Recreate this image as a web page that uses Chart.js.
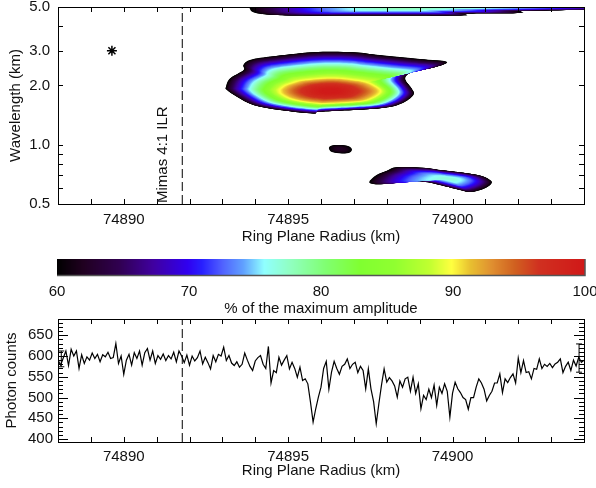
<!DOCTYPE html>
<html>
<head>
<meta charset="utf-8">
<script src="https://cdn.jsdelivr.net/npm/chart.js@4.4.0/dist/chart.umd.min.js"></script>
<style>
  html, body { margin: 0; padding: 0; background: #fff; }
  #wrap { position: relative; width: 596px; height: 488px; overflow: hidden; }
  canvas { position: absolute; left: 0; }
</style>
</head>
<body>
<div id="wrap">
  <canvas id="specChart" width="596" height="250" style="top:0"></canvas>
  <canvas id="countChart" width="596" height="188" style="top:300px"></canvas>
  <canvas id="barChart" width="596" height="80" style="top:250px"></canvas>
</div>
<script>
// ---- axes ----
const radiusMin = 74888, radiusMax = 74904;
const radiusTicks = [74888, 74889, 74890, 74891, 74892, 74893, 74894, 74895, 74896,
                     74897, 74898, 74899, 74900, 74901, 74902, 74903, 74904];
const radiusLabels = [74890, 74895, 74900];
const wavelengthTicks = [0.5, 0.6, 0.7, 0.8, 0.9, 1, 2, 3, 4, 5];
const wavelengthLabels = { 0.5: '0.5', 1: '1.0', 2: '2.0', 3: '3.0', 5: '5.0' };
const countMin = 393, countMax = 689;
const countTicks = [400, 410, 420, 430, 440, 450, 460, 470, 480, 490, 500, 510, 520, 530, 540,
                    550, 560, 570, 580, 590, 600, 610, 620, 630, 640, 650, 660, 670, 680];
const countLabels = [400, 450, 500, 550, 600, 650];
const ampTicks = [60, 70, 80, 90, 100];

// Mimas 4:1 inner Lindblad resonance and the marked wave
const ilrRadius = 74891.78;
const starPoint = [74889.64, 3.0];

// ---- wavelet power (% of maximum): 60 % outlines as [radius km, wavelength km] ----
const mainEdge = [[74893.11, 1.97], [74893.23, 2.17], [74893.64, 2.39], [74893.64, 2.54],
  [74893.84, 2.69], [74894.45, 2.80], [74895.77, 2.95], [74896.98, 2.95], [74897.79, 2.85],
  [74899.01, 2.72], [74899.82, 2.64], [74899.52, 2.49], [74898.81, 2.35], [74898.56, 2.17],
  [74898.76, 1.93], [74898.81, 1.79], [74898.45, 1.62], [74897.79, 1.53], [74895.97, 1.47],
  [74895.77, 1.44], [74894.75, 1.50], [74893.94, 1.59], [74893.44, 1.75], [74893.13, 1.90]];
// 90 % contour of the same feature, vertex for vertex
const mainCore = [[74894.77, 1.92], [74894.92, 2.00], [74895.18, 2.07], [74895.30, 2.10],
  [74895.45, 2.12], [74895.67, 2.14], [74896.11, 2.17], [74896.50, 2.17], [74896.77, 2.15],
  [74897.15, 2.11], [74897.35, 2.08], [74897.40, 2.07], [74897.39, 2.07], [74897.53, 2.03],
  [74897.78, 1.91], [74897.77, 1.82], [74897.53, 1.72], [74897.17, 1.66], [74896.09, 1.62],
  [74895.99, 1.62], [74895.44, 1.66], [74895.05, 1.72], [74894.80, 1.81], [74894.75, 1.88]];
const mainPeak = [74896.27, 1.87, 100];

const topBandEdge = [[74893.84, 4.88], [74894.08, 4.63], [74895.00, 4.53], [74897.79, 4.53],
  [74900.29, 4.53], [74900.41, 4.63], [74902.05, 4.66], [74902.17, 4.77], [74903.67, 4.83],
  [74905.10, 4.88], [74906.92, 5.06], [74905.10, 5.30], [74899.01, 5.36], [74895.36, 5.30],
  [74893.99, 5.18]];
const topBandPeak = [74898.56, 4.94, 78];

const dotEdge = [[74896.24, 0.962], [74896.33, 0.991], [74896.58, 0.997], [74896.82, 0.985],
  [74896.94, 0.951], [74896.88, 0.913], [74896.64, 0.902], [74896.33, 0.918]];
const dotPeak = [74896.58, 0.951, 62.5];

const lowEdge = [[74897.47, 0.649], [74897.69, 0.702], [74898.00, 0.738], [74898.30, 0.768],
  [74899.11, 0.764], [74899.62, 0.744], [74900.33, 0.721], [74900.89, 0.694], [74901.14, 0.662],
  [74901.19, 0.637], [74900.99, 0.601], [74900.58, 0.575], [74900.23, 0.589], [74899.62, 0.624],
  [74899.11, 0.649], [74898.40, 0.649], [74897.90, 0.632], [74897.59, 0.632]];
const lowPeak = [74899.92, 0.670, 77];

// ---- occultation profile ----
const sampleStart = 74888, sampleStep = 0.08;
const photonCounts = [
  590, 578, 595, 612, 577, 616, 600, 612, 570, 603, 582, 598, 590, 607, 594, 604, 586, 603, 598, 609,
  594, 596, 630, 582, 600, 556, 590, 604, 578, 608, 594, 612, 578, 608, 618, 590, 612, 582, 601, 592,
  605, 589, 601, 593, 609, 586, 612, 600, 584, 602, 578, 600, 588, 596, 612, 581, 597, 584, 569, 601,
  586, 604, 600, 621, 589, 601, 583, 577, 586, 573, 580, 607, 590, 575, 565, 588, 596, 601, 580, 570,
  623, 535, 565, 560, 597, 578, 590, 601, 569, 585, 570, 549, 573, 541, 545, 533, 489, 441, 473, 501,
  525, 570, 587, 520, 561, 587, 570, 556, 575, 580, 593, 570, 580, 585, 560, 575, 565, 521, 569, 521,
  490, 437, 485, 530, 569, 537, 548, 540, 528, 501, 540, 525, 545, 549, 515, 549, 510, 533, 473, 505,
  495, 520, 500, 530, 481, 525, 510, 533, 515, 453, 510, 537, 521, 512, 500, 495, 472, 500, 500, 525,
  545, 535, 520, 492, 505, 515, 535, 535, 557, 512, 545, 536, 548, 557, 535, 595, 560, 589, 560, 562,
  545, 570, 568, 593, 570, 580, 575, 582, 572, 581, 585, 593, 560, 575, 585, 565, 590, 576, 597, 585,
  590];
const edgeErrors = [[74888.10, 574, 612], [74903.85, 561, 629]];

// ---- colour table (value -> rgb) ----
const ampStops = [60, 62, 64.7, 67.3, 69.9, 71, 72.5, 74.1, 75.7, 77.7, 80.4, 83, 85.6, 88.2,
                  89.9, 91.3, 92.9, 94.7, 96.5, 100];
const ampColors = [[0, 0, 0], [32, 0, 32], [48, 0, 80], [64, 0, 160], [48, 0, 240], [40, 32, 255],
  [80, 96, 255], [96, 160, 255], [144, 255, 255], [144, 255, 192], [128, 255, 112], [128, 255, 48],
  [144, 255, 48], [192, 255, 48], [255, 255, 64], [232, 192, 48], [224, 144, 48], [208, 96, 32],
  [208, 48, 32], [208, 24, 24]];

function ampColor(v) {
  let c = ampColors[ampColors.length - 1];
  if (v <= ampStops[0]) c = ampColors[0];
  else {
    for (let i = 1; i < ampStops.length; i++) {
      if (v <= ampStops[i]) {
        const t = (v - ampStops[i - 1]) / (ampStops[i] - ampStops[i - 1]);
        const a = ampColors[i - 1], b = ampColors[i];
        c = [0, 1, 2].map(k => a[k] + (b[k] - a[k]) * t);
        break;
      }
    }
  }
  return `rgb(${Math.round(c[0])},${Math.round(c[1])},${Math.round(c[2])})`;
}

const powerBlobs = [
  { edge: topBandEdge, peak: topBandPeak },
  { edge: mainEdge, core: mainCore, coreLevel: 90, peak: mainPeak },
  { edge: dotEdge, peak: dotPeak },
  { edge: lowEdge, peak: lowPeak }
];

Chart.defaults.font.family = '"Liberation Sans", Arial, sans-serif';
Chart.defaults.font.size = 15;
Chart.defaults.color = '#111';

// closed Catmull-Rom curve through the contour vertices
function smoothPath(ctx, pts) {
  const n = pts.length;
  const at = i => pts[(i + n) % n];
  ctx.beginPath();
  ctx.moveTo(pts[0][0], pts[0][1]);
  for (let i = 0; i < n; i++) {
    const p0 = at(i - 1), p1 = at(i), p2 = at(i + 1), p3 = at(i + 2);
    ctx.bezierCurveTo(p1[0] + (p2[0] - p0[0]) / 6, p1[1] + (p2[1] - p0[1]) / 6,
                      p2[0] - (p3[0] - p1[0]) / 6, p2[1] - (p3[1] - p1[1]) / 6,
                      p2[0], p2[1]);
  }
  ctx.closePath();
}

// filled contours: each level shrinks the outline toward the peak
const powerMap = {
  id: 'powerMap',
  beforeDatasetsDraw(chart) {
    const { ctx, chartArea: a, scales: { x, y } } = chart;
    const toPx = ([r, w]) => [x.getPixelForValue(r), y.getPixelForValue(w)];
    ctx.save();
    ctx.beginPath();
    ctx.rect(a.left, a.top, a.right - a.left, a.bottom - a.top);
    ctx.clip();
    for (const blob of powerBlobs) {
      const peak = blob.peak[2];
      const c = toPx(blob.peak);
      const edge = blob.edge.map(toPx);
      const core = blob.core ? blob.core.map(toPx) : null;
      const rCore = core ? Math.sqrt((peak - blob.coreLevel) / (peak - 60)) : 0;
      for (let v = 60; v < peak; v += 0.25) {
        const r = Math.sqrt((peak - v) / (peak - 60));
        const pts = edge.map((e, i) => {
          if (!core) return [c[0] + (e[0] - c[0]) * r, c[1] + (e[1] - c[1]) * r];
          if (r >= rCore) {
            const t = (r - rCore) / (1 - rCore);
            return [core[i][0] + (e[0] - core[i][0]) * t, core[i][1] + (e[1] - core[i][1]) * t];
          }
          const s = r / rCore;
          return [c[0] + (core[i][0] - c[0]) * s, c[1] + (core[i][1] - c[1]) * s];
        });
        ctx.fillStyle = ampColor(v);
        smoothPath(ctx, pts);
        ctx.fill();
      }
    }
    ctx.restore();
  }
};

// plot box with inward tick marks on all four sides
const frameTicks = {
  id: 'frameTicks',
  afterDatasetsDraw(chart, args, opts) {
    const { ctx, chartArea: a } = chart;
    ctx.save();
    ctx.strokeStyle = '#000';
    ctx.lineWidth = 1;
    ctx.beginPath();
    const sx = chart.scales.x, sy = chart.scales.y;
    for (const t of sx.ticks) {
      const p = Math.round(sx.getPixelForValue(t.value)) + 0.5;
      ctx.moveTo(p, a.bottom); ctx.lineTo(p, a.bottom - opts.len);
      ctx.moveTo(p, a.top); ctx.lineTo(p, a.top + opts.len);
    }
    for (const t of sy.ticks) {
      const p = Math.round(sy.getPixelForValue(t.value)) + 0.5;
      const len = opts.majorY && opts.majorY.includes(t.value) ? opts.majorLen : opts.len;
      ctx.moveTo(a.left, p); ctx.lineTo(a.left + len, p);
      ctx.moveTo(a.right, p); ctx.lineTo(a.right - len, p);
    }
    ctx.stroke();
    ctx.strokeRect(Math.round(a.left) + 0.5, Math.round(a.top) + 0.5,
                   Math.round(a.right - a.left), Math.round(a.bottom - a.top));
    ctx.restore();
  }
};

const ilrNote = {
  id: 'ilrNote',
  afterDatasetsDraw(chart) {
    const { ctx, chartArea: a, scales: { x } } = chart;
    ctx.save();
    ctx.translate(x.getPixelForValue(ilrRadius) - 15, a.bottom - 1);
    ctx.rotate(-Math.PI / 2);
    ctx.font = '15px "Liberation Sans", Arial, sans-serif';
    ctx.fillStyle = '#111';
    ctx.textAlign = 'left';
    ctx.textBaseline = 'alphabetic';
    ctx.fillText('Mimas 4:1 ILR', 0, 0);
    ctx.restore();
  }
};

const ampBar = {
  id: 'ampBar',
  beforeDatasetsDraw(chart) {
    const { ctx, chartArea: a, scales: { x } } = chart;
    ctx.save();
    for (let px = Math.floor(a.left); px < Math.ceil(a.right); px++) {
      ctx.fillStyle = ampColor(x.getValueForPixel(px + 0.5));
      ctx.fillRect(px, a.top, 1, a.bottom - a.top);
    }
    ctx.strokeStyle = '#555';
    ctx.lineWidth = 1.5;
    ctx.beginPath();
    ctx.moveTo(a.left, a.bottom + 0.5); ctx.lineTo(a.right, a.bottom + 0.5); ctx.lineTo(a.right, a.top);
    ctx.stroke();
    ctx.restore();
  }
};

const baseOpts = {
  responsive: false,
  animation: false,
  events: [],
  plugins: { legend: { display: false }, tooltip: { enabled: false } }
};

function radiusAxis(labelPad, titlePad) {
  return {
    type: 'linear', min: radiusMin, max: radiusMax,
    grid: { display: false, drawTicks: false }, border: { display: false },
    afterBuildTicks: s => { s.ticks = radiusTicks.map(v => ({ value: v })); },
    ticks: { autoSkip: false, maxRotation: 0, padding: labelPad,
             callback: v => radiusLabels.includes(v) ? String(v) : '' },
    title: { display: true, text: 'Ring Plane Radius (km)', padding: { top: 0, bottom: titlePad } },
    afterFit: s => { s.height = 46; s.paddingLeft = 0; s.paddingRight = 0; }
  };
}

// ---- wavelet map ----
new Chart(document.getElementById('specChart'), {
  type: 'scatter',
  data: {
    datasets: [
      { data: [{ x: starPoint[0], y: starPoint[1] }], pointStyle: 'star', pointRadius: 5,
        borderColor: '#000', borderWidth: 1.5, backgroundColor: '#000' },
      { type: 'line', data: [{ x: ilrRadius, y: 0.5 }, { x: ilrRadius, y: 5 }],
        borderColor: '#000', borderWidth: 1, borderDash: [9, 4], pointRadius: 0 }
    ]
  },
  options: {
    ...baseOpts,
    layout: { padding: { top: 7, right: 12, left: 0, bottom: 0 } },
    plugins: { ...baseOpts.plugins, frameTicks: { len: 5, majorLen: 5 } },
    scales: {
      x: radiusAxis(7, 4),
      y: {
        type: 'logarithmic', min: 0.5, max: 5,
        grid: { display: false, drawTicks: false }, border: { display: false },
        afterBuildTicks: s => { s.ticks = wavelengthTicks.map(v => ({ value: v })); },
        ticks: { autoSkip: false, padding: 8, callback: v => wavelengthLabels[v] || '' },
        title: { display: true, text: 'Wavelength (km)', padding: { top: 7, bottom: 0 } },
        afterFit: s => { s.width = 58; s.paddingTop = 0; s.paddingBottom = 0; }
      }
    }
  },
  plugins: [powerMap, frameTicks, ilrNote]
});

// ---- colour bar ----
new Chart(document.getElementById('barChart'), {
  type: 'scatter',
  data: { datasets: [] },
  options: {
    ...baseOpts,
    layout: { padding: { top: 9, right: 11, left: 57, bottom: 0 } },
    scales: {
      x: {
        type: 'linear', min: 60, max: 100,
        grid: { display: false, drawTicks: false }, border: { display: false },
        afterBuildTicks: s => { s.ticks = ampTicks.map(v => ({ value: v })); },
        ticks: { autoSkip: false, maxRotation: 0, padding: 8 },
        title: { display: true, text: '% of the maximum amplitude', padding: { top: 0, bottom: 12 } },
        afterFit: s => { s.height = 55; s.paddingLeft = 0; s.paddingRight = 0; }
      },
      y: { display: false, min: 0, max: 1 }
    }
  },
  plugins: [ampBar]
});

// ---- photon counts ----
new Chart(document.getElementById('countChart'), {
  type: 'line',
  data: {
    datasets: [
      { data: photonCounts.map((c, i) => ({ x: sampleStart + i * sampleStep, y: c })),
        borderColor: '#000', borderWidth: 1.2, pointRadius: 0, tension: 0 },
      { data: [{ x: ilrRadius, y: countMin }, { x: ilrRadius, y: countMax }],
        borderColor: '#000', borderWidth: 1, borderDash: [9, 4], pointRadius: 0 },
      ...edgeErrors.map(([r, lo, hi]) => ({
        data: [{ x: r, y: lo }, { x: r, y: hi }],
        borderColor: '#000', borderWidth: 1, pointStyle: 'line', pointRadius: 3,
        pointBorderColor: '#000', pointBorderWidth: 1
      }))
    ]
  },
  options: {
    ...baseOpts,
    layout: { padding: { top: 19, right: 12, left: 0, bottom: 0 } },
    plugins: { ...baseOpts.plugins, frameTicks: { len: 5, majorLen: 10, majorY: countLabels } },
    scales: {
      x: radiusAxis(6, 8),
      y: {
        type: 'linear', min: countMin, max: countMax,
        grid: { display: false, drawTicks: false }, border: { display: false },
        afterBuildTicks: s => { s.ticks = countTicks.map(v => ({ value: v })); },
        ticks: { autoSkip: false, padding: 5, callback: v => countLabels.includes(v) ? String(v) : '' },
        title: { display: true, text: 'Photon counts', padding: { top: 3, bottom: 0 } },
        afterFit: s => { s.width = 58; s.paddingTop = 0; s.paddingBottom = 0; }
      }
    }
  },
  plugins: [frameTicks]
});
</script>
</body>
</html>
